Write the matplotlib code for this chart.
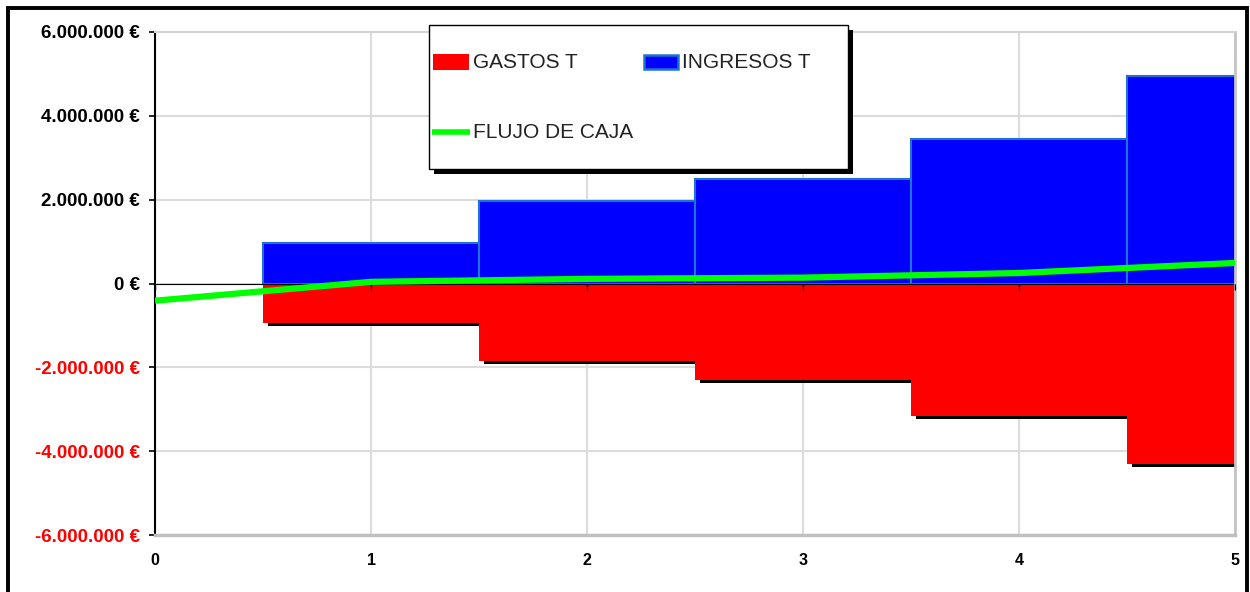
import matplotlib
matplotlib.use('Agg')
import matplotlib.pyplot as plt
from matplotlib.patches import Rectangle
from matplotlib.lines import Line2D
import matplotlib.patheffects as pe
from matplotlib.ticker import FuncFormatter, FixedLocator

# ---------------- data ----------------
periods = [1, 2, 3, 4, 5]
gastos = [-0.95e6, -1.85e6, -2.30e6, -3.16e6, -4.31e6]
ingresos = [0.96e6, 1.97e6, 2.49e6, 3.44e6, 4.94e6]
flujo_x = [0, 1, 2, 3, 4, 5]
flujo = [-0.41e6, 0.04e6, 0.11e6, 0.14e6, 0.25e6, 0.49e6]
y_ticks = [-6e6, -4e6, -2e6, 0, 2e6, 4e6, 6e6]
x_ticks = [0, 1, 2, 3, 4, 5]
legend_labels = ["GASTOS T", "INGRESOS T", "FLUJO DE CAJA"]

RED = '#ff0000'
BLUE = '#0000ff'
BLUE_EDGE = '#1e73d2'
GREEN = '#00ff00'

W, H = 1250, 592
plt.rcParams['font.family'] = ['Liberation Sans', 'DejaVu Sans']

fig = plt.figure(figsize=(W / 100, H / 100), dpi=100)
fig.patch.set_facecolor('white')


def fx(x):
    return x / W


def fy(y):
    return 1 - y / H


left, right, top, bottom = 155, 1235, 31.7, 535.3
ax = fig.add_axes([fx(left), fy(bottom), (right - left) / W, (bottom - top) / H])

# grid
ax.set_axisbelow(True)
ax.grid(True, color='#dcdcdc', lw=1.5)

# bars
for p, g in zip(periods, gastos):
    ax.bar(p, g, width=1.0, color=RED, edgecolor='none', zorder=2,
           path_effects=[pe.SimplePatchShadow(offset=(3.5, -2.2), shadow_rgbFace='black', alpha=1.0),
                         pe.Normal()])
ax.bar(periods, ingresos, width=1.0, color=BLUE, edgecolor=BLUE_EDGE, linewidth=1.5, zorder=2)

# zero line with ticks
ax.axhline(0, color='black', lw=0.8, zorder=2.5)
ax.plot(x_ticks, [0] * len(x_ticks), ls='none', marker=3, ms=4, mew=1, color='black', zorder=2.6)

# flujo de caja
ax.plot(flujo_x, flujo, color=GREEN, lw=4.5, zorder=3, solid_capstyle='butt')

ax.set_xlim(0, 5)
ax.set_ylim(-6e6, 6e6)
ax.xaxis.set_major_locator(FixedLocator(x_ticks))
ax.yaxis.set_major_locator(FixedLocator(y_ticks))


def eur(v, pos=None):
    if v == 0:
        return '0 €'
    return f"{int(round(v)):,}".replace(',', '.') + ' €'


ax.yaxis.set_major_formatter(FuncFormatter(eur))
ax.tick_params(axis='y', direction='out', length=4.5, width=1.2, pad=6.5, labelsize=13.5)
ax.tick_params(axis='x', length=0, pad=13, labelsize=11.5)
for lbl in ax.get_yticklabels():
    lbl.set_fontweight('bold')
for lbl, v in zip(ax.get_yticklabels(), y_ticks):
    lbl.set_color(RED if v < 0 else 'black')
for lbl in ax.get_xticklabels():
    lbl.set_fontweight('bold')

ax.spines['left'].set_color('black')
ax.spines['left'].set_linewidth(1.5)
ax.spines['bottom'].set_color('#c0c0c0')
ax.spines['bottom'].set_linewidth(2.5)
ax.spines['right'].set_color('#c4c4c4')
ax.spines['right'].set_linewidth(2)
ax.spines['top'].set_color('#d4d4d4')
ax.spines['top'].set_linewidth(1.5)

# ---------------- legend (manual, boxed with shadow) ----------------
lx0, ly0, lx1, ly1 = 429, 25, 848, 169
fig.add_artist(Rectangle((fx(lx0 + 5), fy(ly1 + 5)), (lx1 - lx0) / W, (ly1 - ly0) / H,
                         transform=fig.transFigure, facecolor='black', edgecolor='none', zorder=5))
fig.add_artist(Rectangle((fx(lx0), fy(ly1)), (lx1 - lx0) / W, (ly1 - ly0) / H,
                         transform=fig.transFigure, facecolor='white', edgecolor='black', lw=1.0, zorder=6))
# gastos patch
fig.add_artist(Rectangle((fx(433), fy(70)), 36 / W, 16 / H, transform=fig.transFigure,
                         facecolor=RED, edgecolor='none', zorder=7))
# ingresos patch
fig.add_artist(Rectangle((fx(644), fy(69)), 34 / W, 14 / H, transform=fig.transFigure,
                         facecolor=BLUE, edgecolor=BLUE_EDGE, lw=1.8, zorder=7))
# flujo line
fig.add_artist(Line2D([fx(432), fx(470)], [fy(132), fy(132)], transform=fig.transFigure,
                      color=GREEN, lw=4.0, solid_capstyle='butt', zorder=7))
txt_kw = dict(fontsize=15, color='#222222', va='center', ha='left', zorder=8)
fig.text(fx(473), fy(62), legend_labels[0], **txt_kw)
fig.text(fx(682), fy(62), legend_labels[1], **txt_kw)
fig.text(fx(473), fy(132), legend_labels[2], **txt_kw)

# outer frame
fig.add_artist(Rectangle((fx(8), -0.1), (1247 - 8) / W, fy(8) + 0.1, transform=fig.transFigure,
                         fill=False, edgecolor='black', lw=2.8, zorder=10))

fig.savefig('out.png', dpi=100)
